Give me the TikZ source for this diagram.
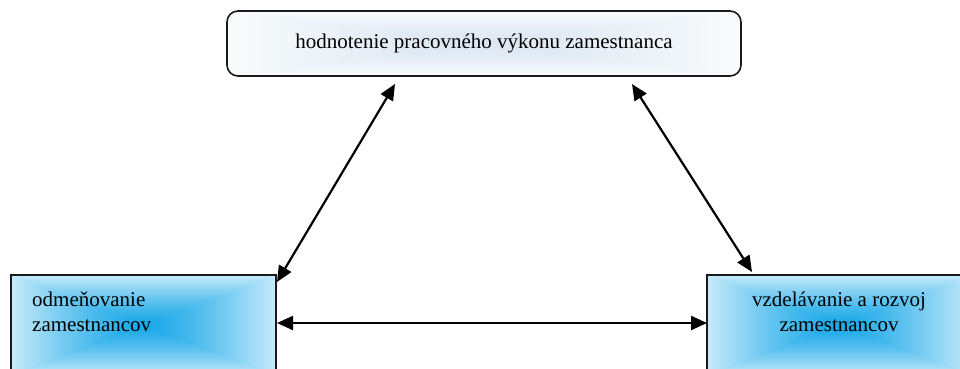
\documentclass[tikz,border=0pt]{standalone}
\usepackage{fontspec}
\setmainfont{Liberation Serif}
\usetikzlibrary{arrows.meta}
\definecolor{edge}{HTML}{1A1A1A}
\pgfdeclarefunctionalshading{botgrad}{\pgfpoint{-50bp}{-50bp}}{\pgfpoint{50bp}{50bp}}{}{
  abs exch abs 2 copy lt {exch} if pop 25 div dup 1 gt {pop 1} if 1.3 exp
  dup dup 0.68 mul 0.10 add 3 1 roll 0.26 mul 0.66 add exch 0.07 mul 0.91 add
}
\pgfdeclarefunctionalshading{topgrad}{\pgfpoint{-50bp}{-50bp}}{\pgfpoint{50bp}{50bp}}{}{
  abs exch abs 2 copy lt {exch} if pop 25 div dup 1 gt {pop 1} if 1.3 exp
  dup dup 0.12 mul 0.86 add 3 1 roll 0.09 mul 0.90 add exch 0.04 mul 0.95 add
}
\tikzset{
  topbox/.style={draw=edge, line width=1.6pt, rounded corners=11pt, shading=topgrad,
    minimum width=514pt, minimum height=65pt,
    inner sep=0pt, font=\fontsize{21}{25}\selectfont},
  botbox/.style={draw=edge, line width=1.6pt, shading=botgrad,
    minimum width=265pt, minimum height=100pt, inner sep=0pt},
  txt/.style={inner sep=0pt, font=\fontsize{21}{25}\selectfont},
  conn/.style={line width=2.2pt, {Triangle[length=16pt,width=14pt]}-{Triangle[length=16pt,width=14pt]}},
}
\begin{document}
\begin{tikzpicture}[x=1pt,y=-1pt]
\useasboundingbox (0,0) rectangle (960,369);
\clip (0,0) rectangle (960,369);
\fill[white] (0,0) rectangle (960,369);
\node[topbox] (T) at (484,43.5) {hodnotenie pracovného výkonu zamestnanca};
\node[botbox] (L) at (143.5,325) {};
\node[botbox] (R) at (839.5,325) {};
\node[txt, anchor=north west, align=left] (Lt) at (32,291.5) {odmeňovanie\\zamestnancov};
\node[txt, anchor=north, align=center] (Rt) at (839,291.5) {vzdelávanie a rozvoj\\zamestnancov};
\coordinate (a1) at (395,84);
\coordinate (a2) at (277,282);
\coordinate (b1) at (632,84);
\coordinate (b2) at (752,272);
\coordinate (c1) at (277,323);
\coordinate (c2) at (707,323);
\draw[conn] (a1) -- (a2);
\draw[conn] (b1) -- (b2);
\draw[conn] (c1) -- (c2);
\end{tikzpicture}
\end{document}
